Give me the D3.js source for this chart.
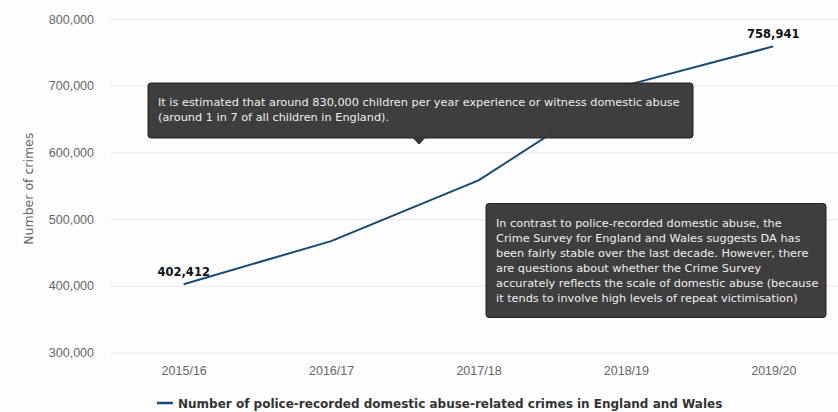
<!DOCTYPE html>
<html>
<head>
<meta charset="utf-8">
<script src="https://cdn.jsdelivr.net/npm/d3@7"></script>
<style>
  html, body { margin: 0; padding: 0; background: #ffffff; }
  svg { display: block; font-family: "DejaVu Sans", Verdana, sans-serif; }
</style>
</head>
<body>
<svg id="chart" width="838" height="412"></svg>
<script>
// Police-recorded domestic abuse-related crimes, England and Wales
const years = ["2015/16", "2016/17", "2017/18", "2018/19", "2019/20"];
const crimes = [402412, 467000, 558000, 700500, 758941];
const yTicks = [300000, 400000, 500000, 600000, 700000, 800000];
const labelledYears = ["2015/16", "2019/20"];
const seriesName = "Number of police-recorded domestic abuse-related crimes in England and Wales";
const yTitle = "Number of crimes";
const notes = [
  ["It is estimated that around 830,000 children per year experience or witness domestic abuse",
   "(around 1 in 7 of all children in England)."],
  ["In contrast to police-recorded domestic abuse, the",
   "Crime Survey for England and Wales suggests DA has",
   "been fairly stable over the last decade. However, there",
   "are questions about whether the Crime Survey",
   "accurately reflects the scale of domestic abuse (because",
   "it tends to involve high levels of repeat victimisation)"]
];

const W = 838, H = 412;
const plot = { left: 110, right: 847, top: 19, bottom: 352.5 };
const lineColor = "#144a74";

const svg = d3.select("#chart");
svg.append("rect").attr("width", W).attr("height", H).attr("fill", "#fdfdfd");

const x = d3.scalePoint().domain(years).range([plot.left, plot.right]).padding(0.5);
const y = d3.scaleLinear().domain([300000, 800000]).range([plot.bottom, plot.top]);
const fmt = d3.format(",");

// horizontal grid + y labels
const yAxis = svg.append("g")
  .attr("transform", `translate(${plot.left},0)`)
  .call(d3.axisLeft(y).tickValues(yTicks).tickFormat(fmt).tickSize(-(W - plot.left)).tickPadding(16));
yAxis.select(".domain").remove();
yAxis.selectAll(".tick line").attr("stroke", "#e6e6e6").attr("stroke-width", 1);
yAxis.selectAll(".tick text").attr("fill", "#666").style("font-size", "12.5px");

// x labels
const xAxis = svg.append("g")
  .attr("transform", `translate(0,${plot.bottom})`)
  .call(d3.axisBottom(x).tickSize(0).tickPadding(14));
xAxis.select(".domain").remove();
xAxis.selectAll(".tick text").attr("fill", "#666").style("font-size", "12.5px");

// y title
svg.append("text")
  .attr("transform", `translate(33,${(plot.top + plot.bottom) / 2 + 3}) rotate(-90)`)
  .attr("text-anchor", "middle")
  .attr("fill", "#666")
  .style("font-size", "12.5px")
  .text(yTitle);

// series line
const line = d3.line().x((d, i) => x(years[i])).y(d => y(d));
svg.append("path")
  .datum(crimes)
  .attr("d", line)
  .attr("fill", "none")
  .attr("stroke", lineColor)
  .attr("stroke-width", 2)
  .attr("stroke-linejoin", "round");

// value labels on first and last points
svg.append("g").selectAll("text")
  .data(years.map((yr, i) => ({ yr, v: crimes[i] })).filter(d => labelledYears.includes(d.yr)))
  .join("text")
  .attr("x", d => x(d.yr))
  .attr("y", d => y(d.v) - 8)
  .attr("text-anchor", "middle")
  .attr("fill", "#111")
  .style("font-size", "11.5px")
  .style("font-weight", "bold")
  .text(d => fmt(d.v));

// annotation callouts
function callout(lines, bx, by, bw, bh, pointer) {
  const g = svg.append("g");
  g.append("rect")
    .attr("x", bx).attr("y", by).attr("width", bw).attr("height", bh)
    .attr("rx", 3).attr("fill", "#383838").attr("stroke", "#222").attr("stroke-width", 1)
    .attr("fill-opacity", 0.97);
  if (pointer) {
    g.append("path")
      .attr("d", `M${pointer - 6},${by + bh - 0.5} L${pointer},${by + bh + 6} L${pointer + 6},${by + bh - 0.5}`)
      .attr("fill", "#383838").attr("stroke", "#222");
    g.append("rect").attr("x", pointer - 6).attr("y", by + bh - 1.5).attr("width", 12).attr("height", 2).attr("fill", "#383838");
  }
  g.selectAll("text").data(lines).join("text")
    .attr("x", bx + 10)
    .attr("y", (d, i) => by + 23 + i * 15)
    .attr("fill", "#eeeeee")
    .style("font-size", "11.3px")
    .text(d => d);
}
callout(notes[0], 148, 83, 545, 55, 419);
callout(notes[1], 486, 203.5, 340, 114, null);

// legend
const lg = svg.append("g").attr("transform", "translate(157,403)");
lg.append("line").attr("x1", 0).attr("x2", 16).attr("y1", 0).attr("y2", 0)
  .attr("stroke", lineColor).attr("stroke-width", 2.5);
lg.append("text").attr("x", 21).attr("y", 4.5)
  .attr("fill", "#333").style("font-size", "12px").style("font-weight", "bold")
  .text(seriesName);
</script>
</body>
</html>
